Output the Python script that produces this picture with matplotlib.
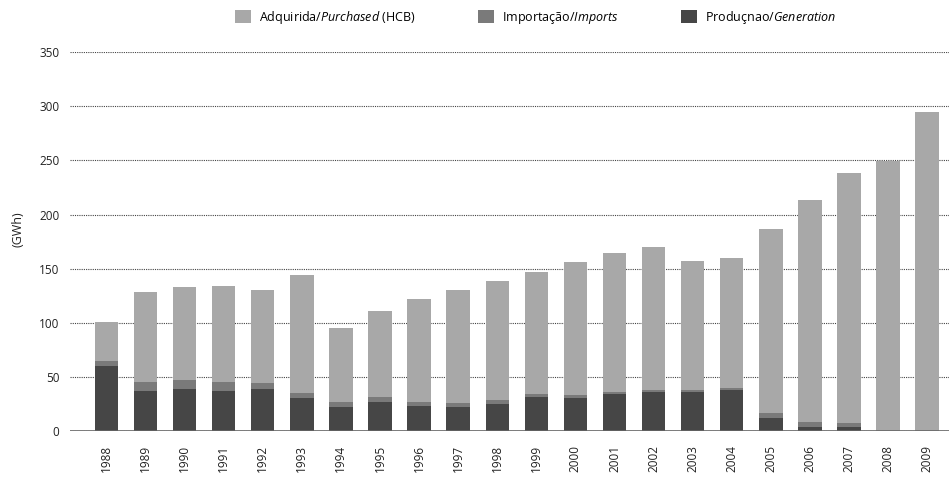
import matplotlib.pyplot as plt
import numpy as np

plt.rcParams['font.family'] = 'Open Sans'
plt.rcParams['mathtext.fontset'] = 'custom'
plt.rcParams['mathtext.it'] = 'Open Sans:italic'
plt.rcParams['mathtext.rm'] = 'Open Sans'

years = ['1988', '1989', '1990', '1991', '1992', '1993', '1994', '1995', '1996', '1997', '1998',
         '1999', '2000', '2001', '2002', '2003', '2004', '2005', '2006', '2007', '2008', '2009']
# GWh
generation = [60, 37, 39, 37, 39, 30, 22, 27, 23, 22, 25, 31, 30, 34, 36, 36, 38, 12, 4, 4, 0, 0]
imports = [5, 8, 8, 8, 5, 5, 5, 4, 4, 4, 4, 3, 3, 2, 2, 2, 2, 5, 4, 3, 0, 0]
purchased = [36, 83, 86, 89, 86, 109, 68, 80, 95, 104, 110, 113, 123, 128, 132, 119, 120, 170, 205, 231, 249, 295]

labels = [r'Adquirida/$\it{Purchased}$ (HCB)', r'Importação/$\it{Imports}$', r'Produçnao/$\it{Generation}$']
colors = ['#a8a8a8', '#7a7a7a', '#464646']

fig = plt.figure(figsize=(9.51, 4.88), dpi=100)
ax = fig.add_axes([0.074, 0.117, 0.924, 0.776])

x = np.arange(len(years))
w = 0.6
gen = np.array(generation)
imp = np.array(imports)
pur = np.array(purchased)

b3 = ax.bar(x, gen, w, color=colors[2], zorder=3)
b2 = ax.bar(x, imp, w, bottom=gen, color=colors[1], zorder=3)
b1 = ax.bar(x, pur, w, bottom=gen + imp, color=colors[0], zorder=3)

ax.set_ylim(0, 350)
ax.set_xlim(-0.92, 21.56)
ax.set_yticks(range(0, 351, 50))
ax.yaxis.grid(True, color='#444444', linestyle=(0, (1, 1)), linewidth=0.8, zorder=0)
ax.axhline(0, color='#666666', linewidth=1.2, zorder=4)
for s in ax.spines.values():
    s.set_visible(False)
ax.tick_params(axis='both', length=0, colors='#222222')
ax.tick_params(axis='y', labelsize=8.5, pad=8)
ax.set_xticks(x)
ax.set_xticklabels(years, rotation=90, fontsize=8.5)
ax.tick_params(axis='x', pad=10)

fig.text(0.019, 0.53, '(GWh)', rotation=90, fontsize=9, color='#222222', va='center', ha='center')

fig.legend([b1, b2, b3], labels, loc='upper center', bbox_to_anchor=(0.563, 1.005), ncol=3,
           frameon=False, fontsize=9, handlelength=1.3, handleheight=1.3, columnspacing=5.0,
           handletextpad=0.6)

fig.savefig('out.png', dpi=100)
